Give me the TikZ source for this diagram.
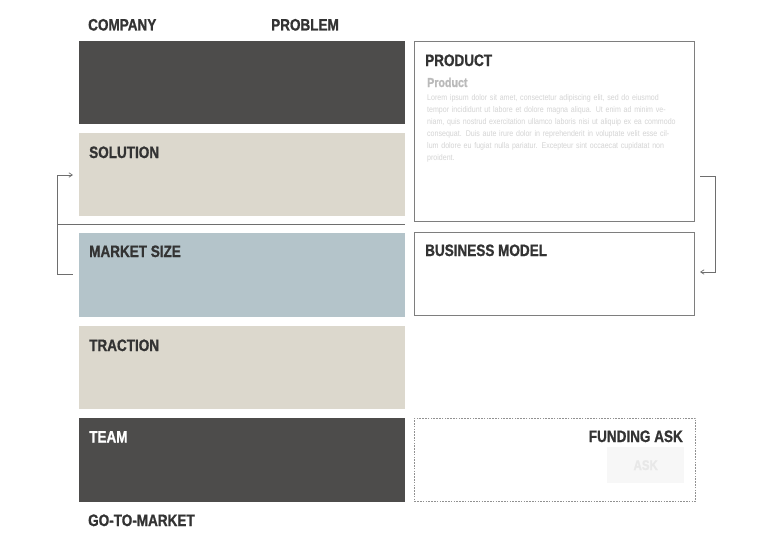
\documentclass[tikz,border=0pt]{standalone}
\usepackage{fontspec}
\setmainfont{Liberation Sans}[FakeStretch=0.85]
\newfontfamily\lblfont{Liberation Sans Bold}[FakeStretch=0.82,RawFeature={embolden=1.0}]
\usetikzlibrary{arrows.meta}
\definecolor{darkbox}{HTML}{4D4C4B}
\definecolor{beige}{HTML}{DCD8CD}
\definecolor{bluegrey}{HTML}{B4C4CA}
\definecolor{ink}{HTML}{333333}
\definecolor{frame}{HTML}{7E7E7E}
\definecolor{conn}{HTML}{6E6E6E}
\begin{document}
\begin{tikzpicture}[x=1pt,y=-1pt,
  lbl/.style={font=\fontsize{16.5}{18}\lblfont,text=ink,inner sep=0pt,anchor=base west},
  fillbox/.style={draw=none,minimum width=326pt,inner sep=0pt,anchor=north west},
  outbox/.style={draw=frame,line width=0.9pt,inner sep=0pt,anchor=north west,minimum width=280pt},
  connline/.style={draw=conn,line width=0.7pt},
  tip/.style={-{Straight Barb[length=3.5pt,width=4.5pt]}}]
\useasboundingbox[fill=white] (0,0) rectangle (768,546);
% left column
\node[fillbox,fill=darkbox,minimum height=83pt] (problem) at (79,41) {};
\node[fillbox,fill=beige,minimum height=83pt] (solution) at (79,133) {};
\node[fillbox,fill=bluegrey,minimum height=84pt] (market) at (79,233) {};
\node[fillbox,fill=beige,minimum height=83pt] (traction) at (79,326) {};
\node[fillbox,fill=darkbox,minimum height=84pt] (team) at (79,418) {};
% labels
\node[lbl] (lcompany) at (88,30.5) {COMPANY};
\node[lbl] (lproblem) at (271,30.5) {PROBLEM};
\node[lbl] (lsolution) at (89,158) {SOLUTION};
\node[lbl] (lmarket) at (89,257) {MARKET SIZE};
\node[lbl] (ltraction) at (89,351) {TRACTION};
\node[lbl,text=white] (lteam) at (89,442.5) {TEAM};
\node[lbl] (lgtm) at (88,526) {GO-TO-MARKET};
% right column
\node[outbox,minimum height=180pt] (product) at (414,41) {};
\node[outbox,minimum height=83pt] (business) at (414,232) {};
\node[outbox,draw=frame!85,dash pattern=on 1.6pt off 1.2pt,minimum width=281pt,minimum height=83pt] (funding) at (414,418) {};
\node[lbl] (lproduct) at (425,66) {PRODUCT};
\node[lbl] (lbusiness) at (425,256) {BUSINESS MODEL};
\node[lbl,anchor=base east] (lfunding) at (683,442) {FUNDING ASK};
% faint product content
\node[inner sep=0pt,anchor=base west,font=\fontsize{13}{15}\lblfont,text=black!27] (psub) at (427,87) {Product};
\node[inner sep=0pt,anchor=north west,align=left,text width=250pt,font=\fontsize{8.3}{12}\selectfont,text=black!17] (ptext) at (427,94)
 {\hyphenpenalty=10000\relax Lorem ipsum dolor sit amet, consectetur adipiscing elit, sed do eiusmod tempor incididunt ut labore et dolore magna aliqua. Ut enim ad minim veniam, quis nostrud exercitation ullamco laboris nisi ut aliquip ex ea commodo consequat. Duis aute irure dolor in reprehenderit in voluptate velit esse cillum dolore eu fugiat nulla pariatur. Excepteur sint occaecat cupidatat non proident.};
% faint ask button
\node[fill=black!3,draw=none,minimum width=77pt,minimum height=36pt,inner sep=0pt,anchor=north west,font=\fontsize{14}{16}\lblfont,text=black!9] (askbtn) at (607,447) {ASK};
% divider
\coordinate (jl) at (57,224.5);
\coordinate (jr) at (405,224.5);
\draw[connline] (jl) -- (jr);
% left connector
\coordinate (lt) at (73,175);
\coordinate (lb) at (73,274);
\draw[connline,tip] (jl) |- (lt);
\draw[connline] (jl) |- (lb);
% right connector
\coordinate (rs) at (700,176);
\coordinate (rk) at (715,176);
\coordinate (re) at (700,272);
\draw[connline,tip] (rs) -- (rk) |- (re);
\end{tikzpicture}
\end{document}
